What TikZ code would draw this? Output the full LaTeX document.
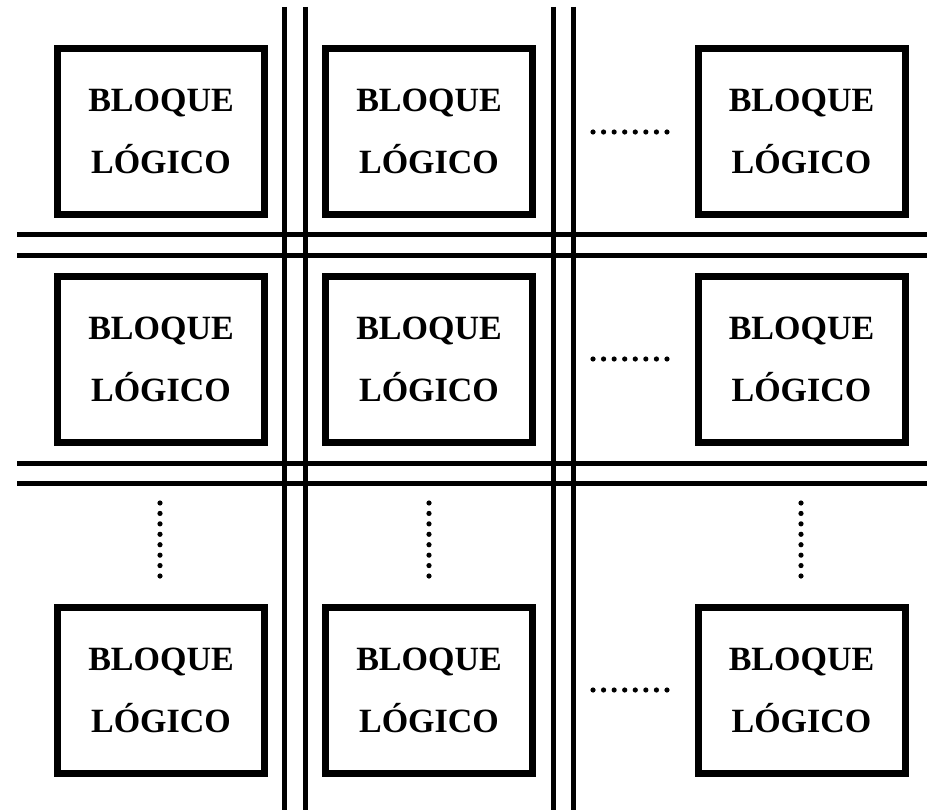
\documentclass[tikz,border=0pt]{standalone}
\usepackage{fontspec}
\setmainfont{Liberation Serif}
\begin{document}
\begin{tikzpicture}[x=1pt,y=-1pt,
  blk/.style={draw, line width=7pt, minimum width=207pt, minimum height=166pt,
    inner sep=0pt, align=center, font=\fontsize{34}{62}\selectfont\bfseries},
  bus/.style={line width=5pt},
  dotmark/.style={fill=black}]
\useasboundingbox (0,0) rectangle (927,810);
% bus lines
\foreach \x [count=\k] in {284,305,553,573}{
  \coordinate (vt\k) at (\x,7);
  \coordinate (vb\k) at (\x,810);
  \draw[bus] (vt\k) -- (vb\k);
}
\foreach \y [count=\k] in {235,256,463,483}{
  \coordinate (hl\k) at (17,\y);
  \coordinate (hr\k) at (927,\y);
  \draw[bus] (hl\k) -- (hr\k);
}
% blocks
\foreach \cx [count=\c] in {161,429,801.5}{
  \foreach \cy [count=\r] in {131.5,359.5,690}{
    \node[blk] (b\r\c) at (\cx,\cy) {BLOQUE\\LÓGICO};
  }
}
% horizontal dots
\foreach \cy in {132,359,690}{
  \foreach \i in {0,...,7}{
    \fill[dotmark] (593+\i*10.57,\cy) circle (2.6pt);
  }
}
% vertical dots
\foreach \cx in {160,429,801}{
  \foreach \i in {0,...,7}{
    \fill[dotmark] (\cx,503+\i*10.43) circle (2.6pt);
  }
}
\end{tikzpicture}
\end{document}
